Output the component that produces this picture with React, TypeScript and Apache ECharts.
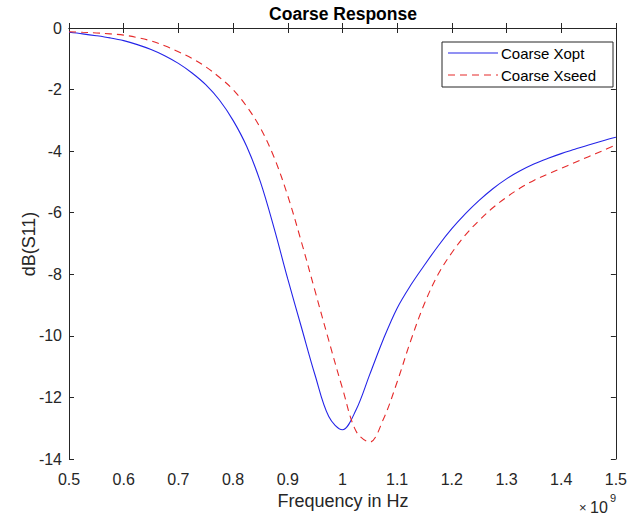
import React, { useEffect, useRef } from "react";
import * as echarts from "echarts";

const freqGHz = [
  0.5, 0.525, 0.55, 0.575, 0.6, 0.625, 0.65, 0.675, 0.7, 0.725, 0.75, 0.775, 0.8, 0.825, 0.85, 0.875,
  0.9, 0.925, 0.95, 0.975, 1.0, 1.025, 1.05, 1.075, 1.1, 1.125, 1.15, 1.175, 1.2, 1.225, 1.25, 1.275,
  1.3, 1.325, 1.35, 1.375, 1.4, 1.425, 1.45, 1.475, 1.5,
];
const xoptDb = [
  -0.14, -0.19, -0.25, -0.32, -0.41, -0.54, -0.7, -0.9, -1.15, -1.46, -1.84, -2.34, -3.0, -3.85, -5.0, -6.5,
  -8.15, -9.72, -11.28, -12.62, -13.05, -12.4, -11.25, -10.1, -9.1, -8.35, -7.7, -7.08, -6.52, -6.03, -5.6, -5.22,
  -4.9, -4.64, -4.42, -4.24, -4.08, -3.94, -3.8, -3.67, -3.55,
];
const xseedDb = [
  -0.12, -0.14, -0.16, -0.19, -0.23, -0.31, -0.42, -0.58, -0.77, -0.99, -1.26, -1.6, -2.0, -2.55, -3.25, -4.2,
  -5.45, -6.95, -8.55, -10.15, -11.7, -13.1, -13.45, -12.7, -11.5, -10.15, -8.95, -8.0, -7.3, -6.72, -6.25, -5.84,
  -5.5, -5.2, -4.95, -4.75, -4.56, -4.37, -4.18, -3.99, -3.8,
];

const seriesNames = ["Coarse Xopt", "Coarse Xseed"];
const titleText = "Coarse Response";
const xName = "Frequency in Hz";
const yName = "dB(S11)";

const FONT = "'Liberation Sans', Arial, Helvetica, sans-serif";
const AX = "#262626";
const BLUE = "#2424e8";
const RED = "#e52a2a";

export default function App() {
  const ref = useRef<HTMLDivElement>(null);
  useEffect(() => {
    if (!ref.current) return;
    const chart = echarts.init(ref.current, null, { renderer: "svg" });
    const grid = { left: 69, right: 13, top: 28, bottom: 59 };
    const xBase = {
      type: "value" as const,
      min: 0.5,
      max: 1.5,
      interval: 0.1,
      splitLine: { show: false },
      axisLine: { show: true, lineStyle: { color: AX, width: 1 } },
      axisTick: { show: true, inside: true, length: 5, lineStyle: { color: AX } },
    };
    const yBase = {
      type: "value" as const,
      min: -14,
      max: 0,
      interval: 2,
      splitLine: { show: false },
      axisLine: { show: true, lineStyle: { color: AX, width: 1 } },
      axisTick: { show: true, inside: true, length: 5, lineStyle: { color: AX } },
    };
    const txt = (x: number, y: number, text: string, size: number, extra: any = {}) => ({
      type: "text",
      style: {
        x,
        y,
        text,
        fontFamily: FONT,
        fontSize: size,
        fill: AX,
        align: "left",
        verticalAlign: "middle",
        ...extra,
      },
    });
    chart.setOption({
      animation: false,
      backgroundColor: "#ffffff",
      grid,
      xAxis: [
        {
          ...xBase,
          position: "bottom",
          axisLabel: {
            color: AX,
            fontFamily: FONT,
            fontSize: 16,
            margin: 12,
            formatter: (v: number) => String(Math.round(v * 10) / 10),
          },
        },
        { ...xBase, position: "top", axisLabel: { show: false } },
      ],
      yAxis: [
        {
          ...yBase,
          position: "left",
          axisLabel: { color: AX, fontFamily: FONT, fontSize: 16, margin: 7 },
        },
        { ...yBase, position: "right", axisLabel: { show: false } },
      ],
      series: [
        {
          name: seriesNames[0],
          type: "line",
          xAxisIndex: 0,
          yAxisIndex: 0,
          data: freqGHz.map((f, i) => [f, xoptDb[i]]),
          symbol: "none",
          smooth: 0.35,
          lineStyle: { color: BLUE, width: 1.1 },
        },
        {
          name: seriesNames[1],
          type: "line",
          xAxisIndex: 0,
          yAxisIndex: 0,
          data: freqGHz.map((f, i) => [f, xseedDb[i]]),
          symbol: "none",
          smooth: 0.35,
          lineStyle: { color: RED, width: 1.1, type: [7, 5] },
        },
      ],
      graphic: [
        txt(343, 14, titleText, 17.5, { fontWeight: "bold", fill: "#000", align: "center" }),
        txt(343, 501, xName, 18, { align: "center" }),
        {
          type: "text",
          x: 29,
          y: 244,
          rotation: Math.PI / 2,
          style: {
            x: 0,
            y: 0,
            text: yName,
            fontFamily: FONT,
            fontSize: 18,
            fill: AX,
            align: "center",
            verticalAlign: "middle",
          },
        },
        txt(579, 507, "×", 13),
        txt(590, 507, "10", 16),
        txt(610, 498, "9", 11),
        {
          type: "rect",
          shape: { x: 442, y: 42, width: 171, height: 45 },
          style: { fill: "#ffffff", stroke: AX, lineWidth: 1 },
        },
        {
          type: "line",
          shape: { x1: 448, y1: 53, x2: 498, y2: 53 },
          style: { stroke: BLUE, lineWidth: 1.1 },
        },
        {
          type: "line",
          shape: { x1: 448, y1: 75, x2: 498, y2: 75 },
          style: { stroke: RED, lineWidth: 1.1, lineDash: [7, 5] },
        },
        txt(501, 53, seriesNames[0], 15, { fill: "#000" }),
        txt(501, 75, seriesNames[1], 15, { fill: "#000" }),
      ],
    });
    return () => chart.dispose();
  }, []);
  return (
    <div
      ref={ref}
      style={{ position: "fixed", left: 0, top: 0, width: 630, height: 518, background: "#fff" }}
    />
  );
}
